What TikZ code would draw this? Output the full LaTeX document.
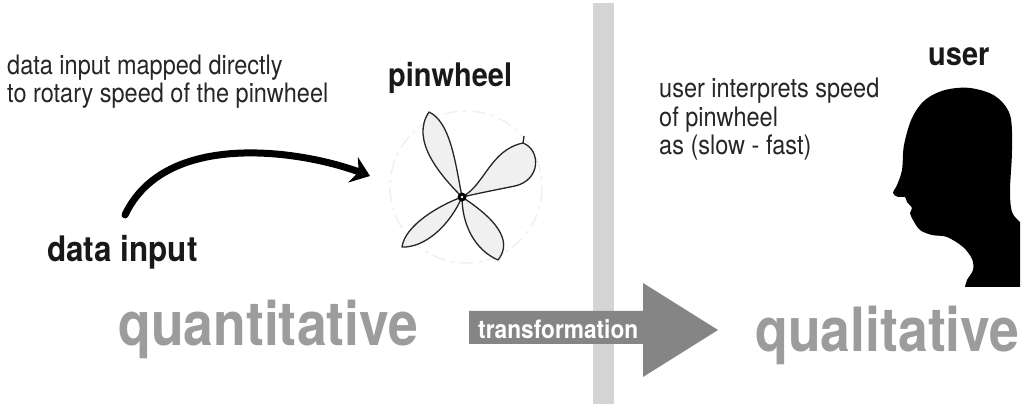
\documentclass[tikz,border=0pt]{standalone}
\usepackage{fontspec}
\setmainfont{TeX Gyre Heros}
\usetikzlibrary{arrows.meta}
\definecolor{biggray}{HTML}{9C9C9C}
\definecolor{arrowgray}{HTML}{858585}
\definecolor{bargray}{HTML}{D4D4D4}
\tikzset{
  note/.style={anchor=base west, inner sep=0pt, yscale=1.14,
    font=\fontsize{23.5}{26}\selectfont, text=black!85},
  label/.style={anchor=base west, inner sep=0pt, yscale=1.12,
    font=\fontsize{29}{32}\selectfont\bfseries, text=black!90},
  big/.style={anchor=base west, inner sep=0pt, yscale=1.14,
    font=\fontsize{53.5}{60}\selectfont\bfseries, text=biggray},
  petal/.style={draw=black!85, line width=1.3pt, fill=gray!12, line join=round},
  flow/.style={line width=7pt, line cap=round,
    -{Stealth[length=18pt, width=27pt, inset=6pt]}},
}
\begin{document}
\begin{tikzpicture}[x=1pt, y=-1pt]
\useasboundingbox (0,0) rectangle (1033,411);
\fill[white] (0,0) rectangle (1033,411);

% dividing band between the two halves
\fill[bargray] (593,3) rectangle (614,404);

% left-hand notes
\node[note] (m1) at (7,75) {data input mapped directly};
\node[note] (m2) at (7,103) {to rotary speed of the pinwheel};
\node[label] (pw) at (388,87) {pinwheel};
\node[label, font=\fontsize{31.4}{34}\selectfont\bfseries] (din) at (47,262) {data input};

% right-hand notes
\node[note] (u1) at (659,98) {user interprets speed};
\node[note] (u2) at (659,127) {of pinwheel};
\node[note] (u3) at (659,155) {as (slow - fast)};
\node[label] (usr) at (928,66) {user};

% curved arrow from the data towards the pinwheel
\coordinate (src) at (125,215);
\coordinate (dst) at (370,176);
\draw[flow] (src) .. controls (165,130) and (300,150) .. (dst);

% pinwheel sketch
\coordinate (hub) at (462,197);
\draw[gray!12, line width=1.5pt, dash pattern=on 14pt off 5pt on 3pt off 6pt]
  (466,187) circle (76);
\draw[petal] (hub) .. controls (440,175) and (410,140) .. (429,112)
  .. controls (450,122) and (455,160) .. (hub);
\draw[petal] (hub) .. controls (485,185) and (490,150) .. (523,143)
  .. controls (541,150) and (541,180) .. (515,186)
  .. controls (495,190) and (480,193) .. (hub);
\draw[petal] (hub) .. controls (440,205) and (405,225) .. (402,247)
  .. controls (425,248) and (450,225) .. (hub);
\draw[petal] (hub) .. controls (462,225) and (475,250) .. (498,260)
  .. controls (510,245) and (505,225) .. (hub);
\draw[black!85, line width=1.3pt] (523,143) -- (524,136);
\fill[black] (hub) circle (4.5);
\fill[white] (hub) circle (1.4);

% head silhouette
\fill[black] (1020,287) -- (1020,222)
  -- plot[smooth, tension=0.55] coordinates {
    (1020,222) (1012,212) (1010,190) (1012,150) (1010,115) (995,96)
    (970,88) (945,90) (925,100) (912,118) (904,145) (902,170)
    (897,185) (893,193) (898,197) (905,197) (907,202) (912,208)
    (910,213) (913,220) (920,230) (932,235) (947,237) (963,247)
    (972,259) (973,270) (967,280) (965,287)}
  -- cycle;

% transformation arrow
\fill[arrowgray] (469,311) -- (643,311) -- (643,283) -- (718,330)
  -- (643,377) -- (643,344) -- (469,344) -- cycle;
\node[anchor=base west, inner sep=0pt, yscale=1.12, text=white,
  font=\fontsize{22.7}{25}\selectfont\bfseries] (tr) at (478,338) {transformation};

% the two ends of the scale
\node[big] (qn) at (118,346) {quantitative};
\node[big] (ql) at (755,352) {qualitative};
\end{tikzpicture}
\end{document}
